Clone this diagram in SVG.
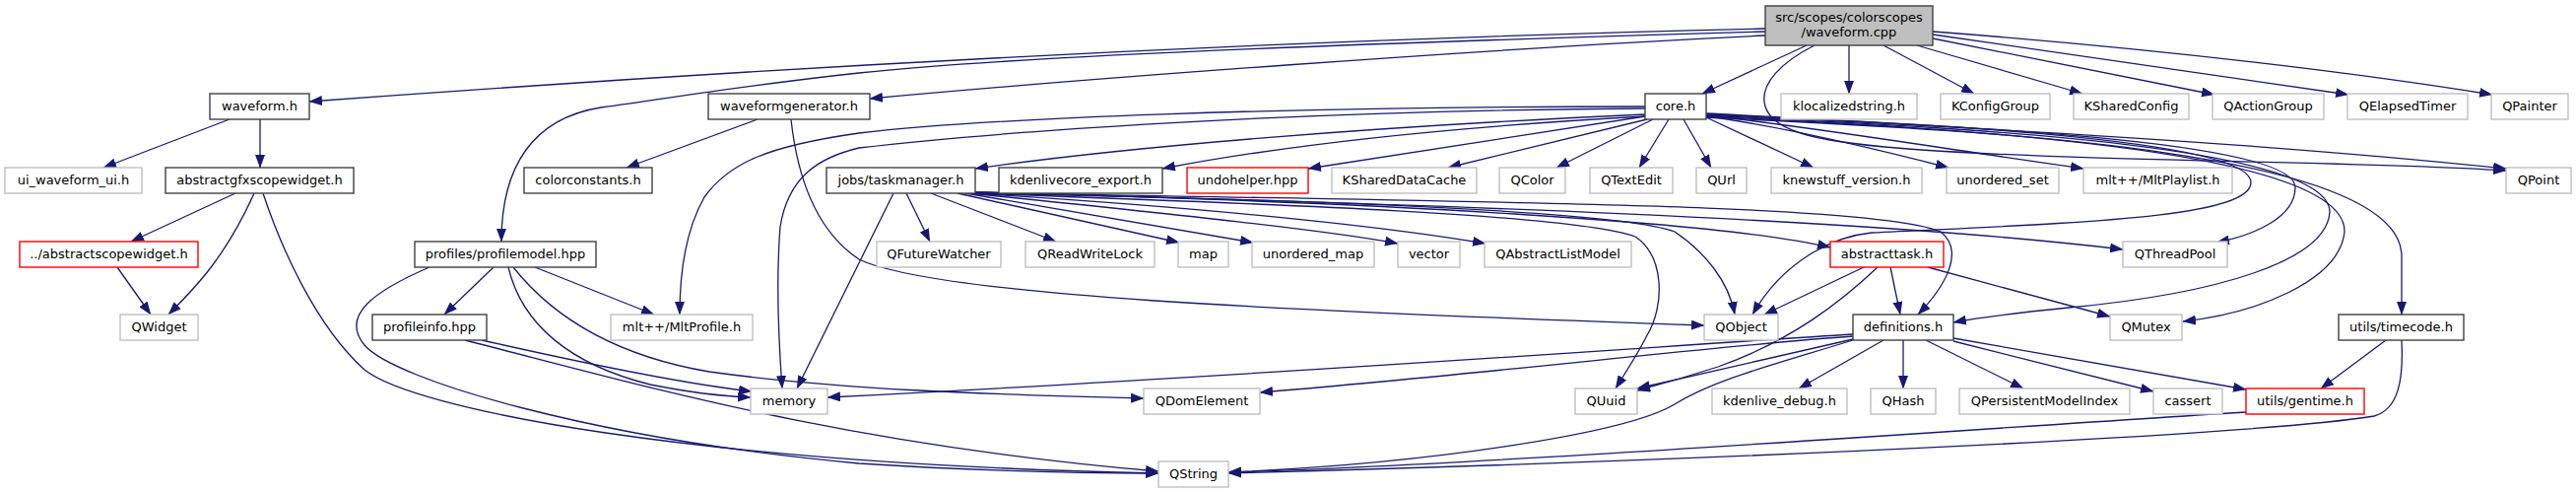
<svg xmlns="http://www.w3.org/2000/svg" width="2615" height="500" viewBox="0 0 2615 500">
<defs>
<style>
.nd rect{fill:#ffffff;stroke:#404040;stroke-width:1.4}
.ext rect{stroke:#bfbfbf}
.trn rect{stroke:#ff0000}
.root rect{fill:#bfbfbf}
text{font-family:"DejaVu Sans","Liberation Sans",sans-serif;font-size:13px;fill:#000000;text-anchor:middle}
#edges path{fill:none;stroke:#191970;stroke-width:1.3;marker-end:url(#ah)}
</style>
<marker id="ah" markerUnits="userSpaceOnUse" markerWidth="14" markerHeight="10" refX="13" refY="5" orient="auto">
<path d="M0,0 L13.5,5 L0,10 z" fill="#191970" stroke="none"/>
</marker>
</defs>
<rect width="2615" height="500" fill="#ffffff"/>
<g id="edges">
<path d="M1792,29 Q1100,45 314,103"/>
<path d="M1792,32 C1450,42 1050,55 872,74 C760,86 690,98 610,109 C540,120 509,170 509,245"/>
<path d="M1792,36 C1500,50 1100,80 883,100"/>
<path d="M1834,46 L1728,95"/>
<path d="M1877,46 L1877,95"/>
<path d="M1912,46 L2004,95"/>
<path d="M1946,46 L2114,95"/>
<path d="M1962,39 L2248,96"/>
<path d="M1962,35 L2384,96"/>
<path d="M1962,32 C2200,50 2400,75 2530,96"/>
<path d="M1842,46 C1810,62 1785,85 1792,108 C1800,135 1850,145 1950,152 C2150,165 2400,163 2544,173"/>
<path d="M1670,116 C1400,128 1150,148 990,171"/>
<path d="M1670,118 C1450,130 1300,148 1180,171"/>
<path d="M1670,118 L1328,171"/>
<path d="M1672,121 L1470,170"/>
<path d="M1678,121 L1580,170"/>
<path d="M1694,121 L1664,170"/>
<path d="M1709,121 L1737,170"/>
<path d="M1732,119 L1841,170"/>
<path d="M1732,118 C1800,127 1900,150 1978,170"/>
<path d="M1732,117 C1850,130 2000,155 2115,171"/>
<path d="M1732,116 C1900,125 2250,140 2544,171"/>
<path d="M1732,115 C1950,126 2285,140 2285,185 C2285,222 2100,226 1900,236 C1860,240 1810,265 1779,319"/>
<path d="M1732,116 C1960,127 2330,140 2330,190 C2330,220 2290,238 2250,246"/>
<path d="M1732,117 C1970,129 2365,145 2365,215 C2362,265 2250,298 2100,312 C2050,317 2010,322 1983,327"/>
<path d="M1732,118 C1980,130 2382,150 2380,235 C2375,285 2290,318 2216,326"/>
<path d="M1732,119 C2000,132 2438,150 2438,260 L2438,319"/>
<path d="M1670,108 C1300,108 1000,120 872,135 C780,148 740,165 715,200 C695,235 690,280 690,319"/>
<path d="M1670,110 C1300,112 1000,135 872,150 C830,160 800,180 792,230 C788,280 790,340 794,394"/>
<path d="M907,196 L809,394"/>
<path d="M920,196 L944,245"/>
<path d="M945,196 L1072,245"/>
<path d="M972,196 L1197,246"/>
<path d="M980,196 L1272,246"/>
<path d="M984,196 C1200,218 1350,234 1419,247"/>
<path d="M986,196 C1250,212 1420,232 1508,247"/>
<path d="M988,196 C1300,207 1600,218 1660,240 C1690,260 1690,310 1672,340 C1662,360 1650,378 1640,394"/>
<path d="M989,196 C1350,203 1650,215 1700,235 C1730,255 1755,285 1761,319"/>
<path d="M990,195 C1400,205 1750,225 1858,251"/>
<path d="M990,195 C1450,207 1900,222 2155,253"/>
<path d="M990,195 C1450,205 1900,205 1970,235 C1995,255 1975,290 1947,319"/>
<path d="M1892,271 L1791,319"/>
<path d="M1919,271 L1929,319"/>
<path d="M1957,271 L2142,321"/>
<path d="M1906,271 C1870,305 1820,345 1744,372 C1710,383 1685,390 1662,396"/>
<path d="M1881,339 C1700,350 1300,380 840,403"/>
<path d="M1881,341 C1750,350 1500,380 1279,398"/>
<path d="M1881,344 L1662,394"/>
<path d="M1881,345 C1800,370 1740,385 1700,410 C1650,440 1450,470 1247,479"/>
<path d="M1912,345 L1826,394"/>
<path d="M1932,345 L1932,394"/>
<path d="M1955,345 L2054,394"/>
<path d="M1983,346 L2186,397"/>
<path d="M1983,343 L2280,395"/>
<path d="M2422,345 L2356,394"/>
<path d="M2438,345 C2440,385 2435,415 2410,422 C2300,440 1800,465 1247,480"/>
<path d="M2280,418 C2050,432 1500,472 1247,479"/>
<path d="M233,121 L105,170"/>
<path d="M264,121 L264,170"/>
<path d="M239,196 L133,245"/>
<path d="M258,196 C245,225 230,250 215,270 C200,290 185,305 171,319"/>
<path d="M267,196 C285,250 320,330 370,375 C420,415 700,470 1176,480"/>
<path d="M119,271 L153,319"/>
<path d="M769,121 L636,170"/>
<path d="M803,121 C810,185 830,235 872,263 C950,300 1300,315 1730,330"/>
<path d="M501,271 L451,319"/>
<path d="M543,271 L664,319"/>
<path d="M516,271 C530,330 580,370 660,390 C700,398 735,402 762,403"/>
<path d="M521,271 C560,320 620,360 720,377 C850,395 1000,400 1161,404"/>
<path d="M436,271 C380,295 345,320 370,350 C400,385 600,445 872,470 C1000,478 1100,480 1176,480"/>
<path d="M489,345 C600,370 700,390 763,397"/>
<path d="M472,345 C650,390 850,450 1176,478"/>
</g>
<g id="node-root" class="nd root"><rect x="1792" y="6" width="170" height="40"/><text x="1877" y="22">src/scopes/colorscopes</text><text x="1877" y="37">/waveform.cpp</text></g>
<g id="node-waveform-h" class="nd"><rect x="213" y="95" width="101" height="26"/><text x="263.5" y="112">waveform.h</text></g>
<g id="node-waveformgenerator-h" class="nd"><rect x="719" y="95" width="164" height="26"/><text x="801" y="112">waveformgenerator.h</text></g>
<g id="node-core-h" class="nd"><rect x="1670" y="95" width="62" height="26"/><text x="1701" y="112">core.h</text></g>
<g id="node-klocalizedstring-h" class="nd ext"><rect x="1808" y="95" width="138" height="26"/><text x="1877" y="112">klocalizedstring.h</text></g>
<g id="node-KConfigGroup" class="nd ext"><rect x="1970" y="95" width="111" height="26"/><text x="2025.5" y="112">KConfigGroup</text></g>
<g id="node-KSharedConfig" class="nd ext"><rect x="2105" y="95" width="117" height="26"/><text x="2163.5" y="112">KSharedConfig</text></g>
<g id="node-QActionGroup" class="nd ext"><rect x="2246" y="95" width="113" height="26"/><text x="2302.5" y="112">QActionGroup</text></g>
<g id="node-QElapsedTimer" class="nd ext"><rect x="2383" y="95" width="122" height="26"/><text x="2444" y="112">QElapsedTimer</text></g>
<g id="node-QPainter" class="nd ext"><rect x="2529" y="95" width="78" height="26"/><text x="2568" y="112">QPainter</text></g>
<g id="node-ui_waveform_ui-h" class="nd ext"><rect x="5" y="170" width="139" height="26"/><text x="74.5" y="187">ui_waveform_ui.h</text></g>
<g id="node-abstractgfxscopewidget-h" class="nd"><rect x="168" y="170" width="191" height="26"/><text x="263.5" y="187">abstractgfxscopewidget.h</text></g>
<g id="node-colorconstants-h" class="nd"><rect x="532" y="170" width="130" height="26"/><text x="597" y="187">colorconstants.h</text></g>
<g id="node-taskmanager-h" class="nd"><rect x="839" y="170" width="151" height="26"/><text x="914.5" y="187">jobs/taskmanager.h</text></g>
<g id="node-kdenlivecore_export-h" class="nd"><rect x="1014" y="170" width="166" height="26"/><text x="1097" y="187">kdenlivecore_export.h</text></g>
<g id="node-undohelper-hpp" class="nd trn"><rect x="1205" y="170" width="123" height="26"/><text x="1266.5" y="187">undohelper.hpp</text></g>
<g id="node-KSharedDataCache" class="nd ext"><rect x="1352" y="170" width="147" height="26"/><text x="1425.5" y="187">KSharedDataCache</text></g>
<g id="node-QColor" class="nd ext"><rect x="1522" y="170" width="67" height="26"/><text x="1555.5" y="187">QColor</text></g>
<g id="node-QTextEdit" class="nd ext"><rect x="1614" y="170" width="84" height="26"/><text x="1656" y="187">QTextEdit</text></g>
<g id="node-QUrl" class="nd ext"><rect x="1722" y="170" width="51" height="26"/><text x="1747.5" y="187">QUrl</text></g>
<g id="node-knewstuff_version-h" class="nd ext"><rect x="1798" y="170" width="153" height="26"/><text x="1874.5" y="187">knewstuff_version.h</text></g>
<g id="node-unordered_set" class="nd ext"><rect x="1976" y="170" width="114" height="26"/><text x="2033" y="187">unordered_set</text></g>
<g id="node-MltPlaylist-h" class="nd ext"><rect x="2115" y="170" width="151" height="26"/><text x="2190.5" y="187">mlt++/MltPlaylist.h</text></g>
<g id="node-QPoint" class="nd ext"><rect x="2544" y="170" width="66" height="26"/><text x="2577" y="187">QPoint</text></g>
<g id="node-abstractscopewidget-h" class="nd trn"><rect x="20" y="245" width="181" height="26"/><text x="110.5" y="262">../abstractscopewidget.h</text></g>
<g id="node-profilemodel-hpp" class="nd"><rect x="421" y="245" width="184" height="26"/><text x="513" y="262">profiles/profilemodel.hpp</text></g>
<g id="node-QFutureWatcher" class="nd ext"><rect x="890" y="245" width="126" height="26"/><text x="953" y="262">QFutureWatcher</text></g>
<g id="node-QReadWriteLock" class="nd ext"><rect x="1041" y="245" width="131" height="26"/><text x="1106.5" y="262">QReadWriteLock</text></g>
<g id="node-map" class="nd ext"><rect x="1196" y="245" width="51" height="26"/><text x="1221.5" y="262">map</text></g>
<g id="node-unordered_map" class="nd ext"><rect x="1271" y="245" width="124" height="26"/><text x="1333" y="262">unordered_map</text></g>
<g id="node-vector" class="nd ext"><rect x="1419" y="245" width="63" height="26"/><text x="1450.5" y="262">vector</text></g>
<g id="node-QAbstractListModel" class="nd ext"><rect x="1507" y="245" width="149" height="26"/><text x="1581.5" y="262">QAbstractListModel</text></g>
<g id="node-abstracttask-h" class="nd trn"><rect x="1858" y="245" width="115" height="26"/><text x="1915.5" y="262">abstracttask.h</text></g>
<g id="node-QThreadPool" class="nd ext"><rect x="2155" y="245" width="106" height="26"/><text x="2208" y="262">QThreadPool</text></g>
<g id="node-QWidget" class="nd ext"><rect x="122" y="319" width="79" height="26"/><text x="161.5" y="336">QWidget</text></g>
<g id="node-profileinfo-hpp" class="nd"><rect x="378" y="319" width="116" height="26"/><text x="436" y="336">profileinfo.hpp</text></g>
<g id="node-MltProfile-h" class="nd ext"><rect x="620" y="319" width="144" height="26"/><text x="692" y="336">mlt++/MltProfile.h</text></g>
<g id="node-QObject" class="nd ext"><rect x="1730" y="319" width="75" height="26"/><text x="1767.5" y="336">QObject</text></g>
<g id="node-definitions-h" class="nd"><rect x="1881" y="319" width="102" height="26"/><text x="1932" y="336">definitions.h</text></g>
<g id="node-QMutex" class="nd ext"><rect x="2142" y="319" width="73" height="26"/><text x="2178.5" y="336">QMutex</text></g>
<g id="node-timecode-h" class="nd"><rect x="2374" y="319" width="127" height="26"/><text x="2437.5" y="336">utils/timecode.h</text></g>
<g id="node-memory" class="nd ext"><rect x="762" y="394" width="78" height="26"/><text x="801" y="411">memory</text></g>
<g id="node-QDomElement" class="nd ext"><rect x="1161" y="394" width="118" height="26"/><text x="1220" y="411">QDomElement</text></g>
<g id="node-QUuid" class="nd ext"><rect x="1599" y="394" width="63" height="26"/><text x="1630.5" y="411">QUuid</text></g>
<g id="node-kdenlive_debug-h" class="nd ext"><rect x="1738" y="394" width="137" height="26"/><text x="1806.5" y="411">kdenlive_debug.h</text></g>
<g id="node-QHash" class="nd ext"><rect x="1899" y="394" width="66" height="26"/><text x="1932" y="411">QHash</text></g>
<g id="node-QPersistentModelIndex" class="nd ext"><rect x="1989" y="394" width="173" height="26"/><text x="2075.5" y="411">QPersistentModelIndex</text></g>
<g id="node-cassert" class="nd ext"><rect x="2186" y="394" width="70" height="26"/><text x="2221" y="411">cassert</text></g>
<g id="node-gentime-h" class="nd trn"><rect x="2280" y="394" width="120" height="26"/><text x="2340" y="411">utils/gentime.h</text></g>
<g id="node-QString" class="nd ext"><rect x="1176" y="468" width="71" height="26"/><text x="1211.5" y="485">QString</text></g>
</svg>
